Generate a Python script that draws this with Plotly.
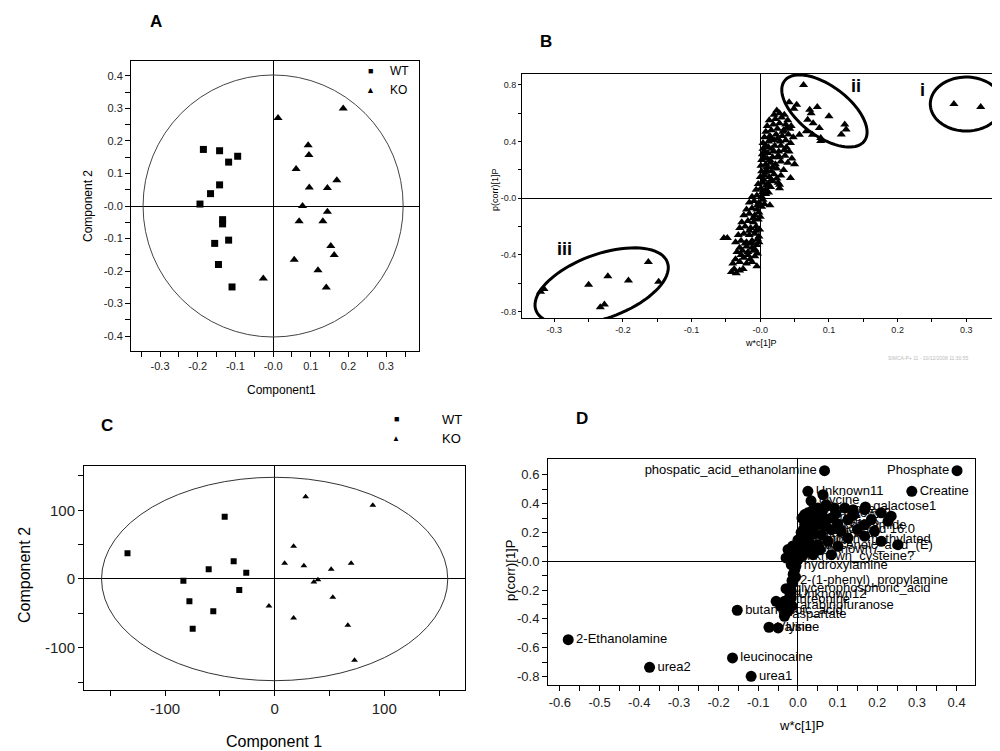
import numpy as np
import plotly.graph_objects as go

W, H = 1000, 751
FONT = "Liberation Sans, Arial, sans-serif"

# ---- panel A: PLS-DA scores ----
A_WT_X = [-0.185, -0.142, -0.118, -0.094, -0.142, -0.166, -0.194, -0.134, -0.134, -0.155, -0.118, -0.145, -0.109]
A_WT_Y = [0.174, 0.170, 0.135, 0.153, 0.065, 0.038, 0.006, -0.042, -0.055, -0.115, -0.105, -0.180, -0.249]
A_KO_X = [0.013, 0.186, 0.093, 0.095, 0.061, 0.096, 0.144, 0.169, 0.078, 0.144, 0.069, 0.132, 0.153, 0.162, 0.056, 0.119, 0.141, -0.026]
A_KO_Y = [0.271, 0.300, 0.187, 0.157, 0.114, 0.057, 0.055, 0.079, 0.000, -0.018, -0.047, -0.047, -0.123, -0.151, -0.165, -0.198, -0.251, -0.223]
A_XTICKS = [-0.3, -0.2, -0.1, 0.0, 0.1, 0.2, 0.3]
A_XTEXT = ["-0.3", "-0.2", "-0.1", "-0.0", "0.1", "0.2", "0.3"]
A_YTICKS = [-0.4, -0.3, -0.2, -0.1, 0.0, 0.1, 0.2, 0.3, 0.4]
A_YTEXT = ["-0.4", "-0.3", "-0.2", "-0.1", "-0.0", "0.1", "0.2", "0.3", "0.4"]

# ---- panel B: S-plot (variables) ----
B_X = [0.282, 0.321,
       0.063, 0.042, 0.053, 0.049, 0.072, 0.083, 0.074, 0.100, 0.069, 0.077, 0.123, 0.125, 0.118,
       0.086, 0.088, 0.067, 0.057, 0.076, 0.088,
       -0.320, -0.315, -0.250, -0.222, -0.192, -0.163, -0.148, -0.233, -0.227,
       -0.042, -0.035, -0.030, -0.038, -0.025, -0.005,
       -0.040, -0.030, -0.020, -0.012, -0.036, -0.024, -0.015, -0.008,
       -0.034, -0.026, -0.018, -0.010, -0.004, -0.030, -0.020, -0.012, -0.005,
       -0.053, -0.048, -0.036, -0.028, -0.020, -0.012, -0.004, -0.032, -0.024, -0.016, -0.008, -0.002,
       -0.030, -0.022, -0.014, -0.006, -0.001, -0.027, -0.018, -0.010, -0.003,
       -0.024, -0.016, -0.008, -0.002, -0.020, -0.012, -0.005, 0.002, 0.014,
       -0.016, -0.009, -0.002, 0.004, -0.012, -0.005, 0.002, 0.008, 0.028,
       -0.006, 0.001, 0.008, 0.015, -0.003, 0.004, 0.011, 0.018, 0.026, 0.028, 0.044,
       0.000, 0.006, 0.013, 0.020, 0.030, 0.002, 0.009, 0.016, 0.024, 0.034,
       0.001, 0.008, 0.015, 0.022, 0.030, 0.040, 0.050, 0.046, 0.002, 0.010, 0.018, 0.028, 0.036,
       0.003, 0.011, 0.019, 0.027, 0.035, 0.042, 0.004, 0.012, 0.021, 0.030, 0.038,
       0.004, 0.012, 0.020, 0.029, 0.037, 0.044, 0.006, 0.014, 0.023, 0.032, 0.041, 0.048,
       0.008, 0.016, 0.025, 0.034, 0.043, 0.010, 0.019, 0.028, 0.037, 0.045,
       0.013, 0.022, 0.031, 0.040, 0.020, 0.028, 0.035, 0.024,
       -0.028, -0.018, -0.008, -0.022, -0.012, -0.002, -0.016, -0.006, -0.010, 0.000,
       -0.004, 0.006, 0.012, 0.003, 0.009, 0.005, 0.007, 0.016, 0.024, 0.010, 0.018,
       0.005, 0.014, 0.006, 0.017, 0.026, 0.008, 0.016, 0.025, 0.033, 0.039]
B_Y = [0.665, 0.644,
       0.800, 0.678, 0.660, 0.632, 0.625, 0.644, 0.600, 0.578, 0.555, 0.530, 0.520, 0.485, 0.450,
       0.496, 0.426, 0.473, 0.449, 0.449, 0.404,
       -0.660, -0.640, -0.610, -0.550, -0.580, -0.450, -0.590, -0.770, -0.750,
       -0.520, -0.530, -0.510, -0.500, -0.500, -0.480,
       -0.460, -0.450, -0.460, -0.450, -0.430, -0.420, -0.430, -0.410,
       -0.380, -0.370, -0.380, -0.370, -0.390, -0.350, -0.340, -0.350, -0.330,
       -0.280, -0.280, -0.310, -0.300, -0.310, -0.300, -0.290, -0.260, -0.250, -0.260, -0.250, -0.270,
       -0.210, -0.200, -0.210, -0.200, -0.220, -0.170, -0.160, -0.170, -0.150,
       -0.120, -0.110, -0.120, -0.100, -0.080, -0.070, -0.080, -0.060, -0.050,
       -0.030, -0.020, -0.030, -0.010, 0.010, 0.020, 0.010, 0.030, 0.070,
       0.060, 0.070, 0.060, 0.080, 0.100, 0.110, 0.100, 0.120, 0.110, 0.096, 0.143,
       0.150, 0.160, 0.150, 0.170, 0.160, 0.190, 0.200, 0.190, 0.210, 0.200,
       0.230, 0.240, 0.250, 0.240, 0.260, 0.250, 0.240, 0.280, 0.270, 0.280, 0.290, 0.290, 0.300,
       0.310, 0.320, 0.330, 0.330, 0.340, 0.330, 0.350, 0.360, 0.370, 0.370, 0.360,
       0.390, 0.400, 0.410, 0.400, 0.410, 0.390, 0.430, 0.440, 0.450, 0.440, 0.450, 0.430,
       0.470, 0.480, 0.490, 0.480, 0.490, 0.510, 0.520, 0.530, 0.520, 0.510,
       0.550, 0.560, 0.570, 0.550, 0.590, 0.600, 0.590, 0.620,
       -0.400, -0.400, -0.360, -0.320, -0.320, -0.310, -0.230, -0.230, -0.140, -0.130,
       -0.050, -0.040, 0.040, 0.040, 0.090, 0.130, 0.180, 0.130, 0.140, 0.220, 0.220,
       0.290, 0.270, 0.330, 0.350, 0.300, 0.370, 0.420, 0.420, 0.470, 0.500]
B_XTICKS = [-0.3, -0.2, -0.1, 0.0, 0.1, 0.2, 0.3]
B_XTEXT = ["-0.3", "-0.2", "-0.1", "-0.0", "0.1", "0.2", "0.3"]
B_YTICKS = [-0.8, -0.4, 0.0, 0.4, 0.8]
B_YTEXT = ["-0.8", "-0.4", "-0.0", "0.4", "0.8"]

# ---- panel C: PCA scores ----
C_WT_X = [-134.3, -45.6, -37.4, -60.2, -25.9, -83.3, -32.3, -77.8, -56.0, -74.8]
C_WT_Y = [37.4, 90.7, 25.7, 14.1, 9.2, -2.4, -16.0, -32.5, -47.0, -72.3]
C_KO_X = [28.3, 89.6, 17.3, 9.1, 26.7, 51.6, 69.8, 35.8, 39.5, 53.1, -5.2, 17.3, 66.8, 72.9]
C_KO_Y = [119.8, 107.3, 47.6, 22.8, 19.4, 14.1, 22.8, -4.4, -1.0, -26.7, -39.3, -56.8, -67.4, -118.4]
C_TICKS = [-100, 0, 100]

# ---- panel D: labelled S-plot ----
D_LABELS = ["Phosphate", "Creatine", "phospatic_acid_ethanolamine", "Unknown11", "glycine", "galactose1",
            "mannose", "Unknown2", "serine", "Unknown5", "nicotinamide", "palmitic_acid 16:0",
            "alanine", "Unknown_methylated", "octadecenoic_acid_(E)", "proline", "Unknown7",
            "Unknown_cysteine?", "hydroxylamine", "2-(1-phenyl)_propylamine", "glycerophosphoric_acid",
            "Unknown12", "threonine", "arabinofuranose", "aspartate", "butanedioic_acid", "Valine",
            "lysine", "leucinocaine", "urea1", "urea2", "2-Ethanolamine"]
D_X = [0.401, 0.287, 0.067, 0.025, 0.033, 0.170,
       0.040, 0.060, 0.050, 0.030, 0.070, 0.013,
       0.040, 0.000, -0.013, 0.020, 0.030,
       -0.020, -0.005, -0.015, -0.030,
       -0.020, -0.025, -0.015, -0.034, -0.153, -0.073,
       -0.050, -0.165, -0.118, -0.374, -0.579]
D_Y = [0.629, 0.486, 0.629, 0.486, 0.420, 0.377,
       0.360, 0.330, 0.300, 0.270, 0.245, 0.217,
       0.190, 0.148, 0.106, 0.140, 0.080,
       0.030, -0.033, -0.135, -0.190,
       -0.235, -0.270, -0.310, -0.371, -0.340, -0.458,
       -0.463, -0.671, -0.799, -0.736, -0.544]
D_LEFT = ["Phosphate", "phospatic_acid_ethanolamine"]
D_DOT_X = [0.063, 0.071, 0.025, 0.038, 0.050, 0.071, 0.092, 0.118, 0.139, 0.168, 0.210, 0.235, 0.227,
           0.017, 0.013, 0.004, -0.004, -0.025, -0.030, -0.017, -0.008, -0.013, -0.017, -0.017,
           -0.034, -0.055, -0.043, -0.025, -0.034,
           0.034, 0.059, 0.084, 0.109, 0.050, 0.076, 0.101, 0.126, 0.168, 0.210, 0.252, 0.038,
           0.084, 0.025, 0.017, 0.029, 0.050, 0.084, 0.126, 0.168, 0.193,
           0.010, 0.020, 0.008, 0.018, 0.005, 0.015, 0.003, 0.012, -0.008, 0.000, -0.012, -0.006,
           0.045, 0.062, 0.095, 0.140, 0.185, 0.040, 0.065, 0.100, 0.150, 0.030, 0.055]
D_DOT_Y = [0.462, 0.393, 0.336, 0.357, 0.370, 0.382, 0.370, 0.370, 0.358, 0.358, 0.336, 0.313, 0.278,
           0.254, 0.185, 0.139, 0.092, 0.081, 0.023, -0.023, -0.058, -0.150, -0.208, -0.255,
           -0.278, -0.278, -0.313, -0.347, -0.382,
           0.208, 0.185, 0.219, 0.208, 0.115, 0.139, 0.104, 0.162, 0.174, 0.139, 0.115, 0.046,
           0.046, 0.162, 0.324, 0.278, 0.254, 0.301, 0.289, 0.254, 0.208,
           0.300, 0.230, 0.200, 0.160, 0.120, 0.100, 0.060, 0.040, 0.050, 0.010, -0.090, -0.110,
           0.330, 0.310, 0.330, 0.320, 0.290, 0.240, 0.260, 0.260, 0.220, 0.120, 0.080]
D_XTICKS = [-0.6, -0.5, -0.4, -0.3, -0.2, -0.1, 0.0, 0.1, 0.2, 0.3, 0.4]
D_XTEXT = ["-0.6", "-0.5", "-0.4", "-0.3", "-0.2", "-0.1", "0.0", "0.1", "0.2", "0.3", "0.4"]
D_YTICKS = [-0.8, -0.6, -0.4, -0.2, 0.0, 0.2, 0.4, 0.6]
D_YTEXT = ["-0.8", "-0.6", "-0.4", "-0.2", "-0.0", "0.2", "0.4", "0.6"]


def px_x(p):
    return p / W


def px_y(p):
    return 1 - p / H


def axis(dom, rng, tv, tt, minor_vals, size, ticklen=5, anchor=None):
    return dict(domain=dom, range=rng, tickmode="array", tickvals=tv, ticktext=tt,
                ticks="outside", ticklen=ticklen, tickcolor="black", tickwidth=1,
                showline=True, mirror=True, linecolor="black", linewidth=1,
                showgrid=False, zeroline=True, zerolinecolor="black", zerolinewidth=1,
                tickfont=dict(family=FONT, size=size, color="#222"),
                minor=dict(tickmode="array", tickvals=minor_vals, ticks="outside",
                           ticklen=ticklen, tickcolor="black", showgrid=False),
                anchor=anchor)


def ellipse_path(cx, cy, a, b, angle, sx, sy):
    # a, b in pixels, sx/sy = pixels per data unit
    t = np.linspace(0, 2 * np.pi, 80)
    th = np.radians(angle)
    dx = a * np.cos(th) * np.cos(t) - b * np.sin(th) * np.sin(t)
    dy = a * np.sin(th) * np.cos(t) + b * np.cos(th) * np.sin(t)
    xs = cx + dx / sx
    ys = cy + dy / sy
    pts = " L ".join(f"{x:.4f},{y:.4f}" for x, y in zip(xs, ys))
    return "M " + pts + " Z"


fig = go.Figure()

# A
fig.add_trace(go.Scatter(x=A_WT_X, y=A_WT_Y, mode="markers", name="WT", xaxis="x", yaxis="y",
                         marker=dict(symbol="square", size=7, color="black")))
fig.add_trace(go.Scatter(x=A_KO_X, y=A_KO_Y, mode="markers", name="KO", xaxis="x", yaxis="y",
                         marker=dict(symbol="triangle-up", size=8, color="black")))
# B
fig.add_trace(go.Scatter(x=B_X, y=B_Y, mode="markers", xaxis="x2", yaxis="y2",
                         marker=dict(symbol="triangle-up", size=8, color="black")))
# C
fig.add_trace(go.Scatter(x=C_WT_X, y=C_WT_Y, mode="markers", xaxis="x3", yaxis="y3",
                         marker=dict(symbol="square", size=6, color="black")))
fig.add_trace(go.Scatter(x=C_KO_X, y=C_KO_Y, mode="markers", xaxis="x3", yaxis="y3",
                         marker=dict(symbol="triangle-up", size=6, color="black")))
# D
fig.add_trace(go.Scatter(x=D_DOT_X, y=D_DOT_Y, mode="markers", xaxis="x4", yaxis="y4",
                         marker=dict(symbol="circle", size=11, color="black")))
fig.add_trace(go.Scatter(x=D_X, y=D_Y, mode="markers+text", xaxis="x4", yaxis="y4",
                         text=D_LABELS,
                         textposition=["middle left" if s in D_LEFT else "middle right" for s in D_LABELS],
                         textfont=dict(family=FONT, size=13, color="black"),
                         cliponaxis=False,
                         marker=dict(symbol="circle", size=11, color="black")))

fig.update_layout(
    width=W, height=H, margin=dict(l=0, r=0, t=0, b=0),
    paper_bgcolor="white", plot_bgcolor="white", showlegend=False,
    xaxis=axis([px_x(123), px_x(411)], [-0.377, 0.387], A_XTICKS, A_XTEXT,
               list(np.arange(-0.35, 0.36, 0.05)), 11, anchor="y"),
    yaxis=axis([px_y(343), px_y(53)], [-0.446, 0.446], A_YTICKS, A_YTEXT,
               list(np.arange(-0.45, 0.46, 0.05)), 11, anchor="x"),
    xaxis2=axis([px_x(514), px_x(994)], [-0.347, 0.352], B_XTICKS, B_XTEXT,
                list(np.arange(-0.35, 0.36, 0.05)), 9, ticklen=3, anchor="y2"),
    yaxis2=axis([px_y(310), px_y(66)], [-0.845, 0.877], B_YTICKS, B_YTEXT,
                list(np.arange(-0.8, 0.81, 0.2)), 9, ticklen=3, anchor="x2"),
    xaxis3=axis([px_x(76), px_x(457.3)], [-174, 174], C_TICKS, [str(v) for v in C_TICKS],
                list(np.arange(-150, 151, 50)), 15, anchor="y3"),
    yaxis3=axis([px_y(682.3), px_y(458.3)], [-162, 164], C_TICKS, [str(v) for v in C_TICKS],
                list(np.arange(-150, 151, 50)), 15, anchor="x3"),
    xaxis4=axis([px_x(540), px_x(967.3)], [-0.63, 0.447], D_XTICKS, D_XTEXT,
                list(np.arange(-0.6, 0.41, 0.05)), 13, anchor="y4"),
    yaxis4=axis([px_y(677.3), px_y(451)], [-0.861, 0.71], D_YTICKS, D_YTEXT,
                list(np.arange(-0.8, 0.61, 0.1)), 13, anchor="x4"),
)

shapes = [
    dict(type="circle", xref="x", yref="y", x0=-0.345, x1=0.345, y0=-0.403, y1=0.403,
         line=dict(color="#444", width=1)),
    dict(type="circle", xref="x3", yref="y3", x0=-158, x1=158, y0=-148, y1=148,
         line=dict(color="#333", width=1)),
]
# circled groups in B (center in data units, axes in pixels)
B_SX, B_SY = 687, 141.7
for cx, cy, a, b, ang in [(0.0934, 0.616, 50, 25, -37), (0.300, 0.665, 36, 27, 0), (-0.231, -0.621, 70, 32, 20)]:
    shapes.append(dict(type="path", xref="x2", yref="y2",
                       path=ellipse_path(cx, cy, a, b, ang, B_SX, B_SY),
                       line=dict(color="black", width=3)))
fig.update_layout(shapes=shapes)


def note(text, x, y, size, bold=False, angle=0, color="black", xanchor="center"):
    fig.add_annotation(text=f"<b>{text}</b>" if bold else text, x=px_x(x), y=px_y(y),
                       xref="paper", yref="paper", showarrow=False, textangle=angle,
                       xanchor=xanchor, yanchor="middle",
                       font=dict(family=FONT, size=size, color=color))


# panel letters
note("A", 148, 14, 17, bold=True)
note("B", 538, 33, 17, bold=True)
note("C", 99, 417, 17, bold=True)
note("D", 574, 410, 17, bold=True)

# axis titles
note("Component 2", 80, 198, 12, angle=-90)
note("Component1", 273, 382, 12)
note("p(corr)[1]P", 487, 182, 9, angle=-90)
note("w*c[1]P", 753, 335, 9)
note("SIMCA-P+ 11 - 10/12/2008 11:30:55", 920, 350, 5, color="#bbb")
note("Component 2", 16, 567, 16, angle=-90)
note("Component 1", 266, 733, 16)
note("p(corr)[1]P", 502, 563, 13, angle=-90)
note("w*c[1]P", 793, 717, 13)

# group labels in B
note("ii", 848, 78, 18, bold=True)
note("i", 914, 82, 18, bold=True)
note("iii", 556, 241, 18, bold=True)

# legends
note("■", 362, 63, 9)
note("▲", 362, 82, 9)
note("WT", 380, 63, 12, xanchor="left")
note("KO", 380, 82, 12, xanchor="left")
note("■", 388, 411, 9)
note("▲", 388, 430, 8)
note("WT", 432, 411, 13, xanchor="left")
note("KO", 432, 430, 13, xanchor="left")

fig.write_html("out.html")
